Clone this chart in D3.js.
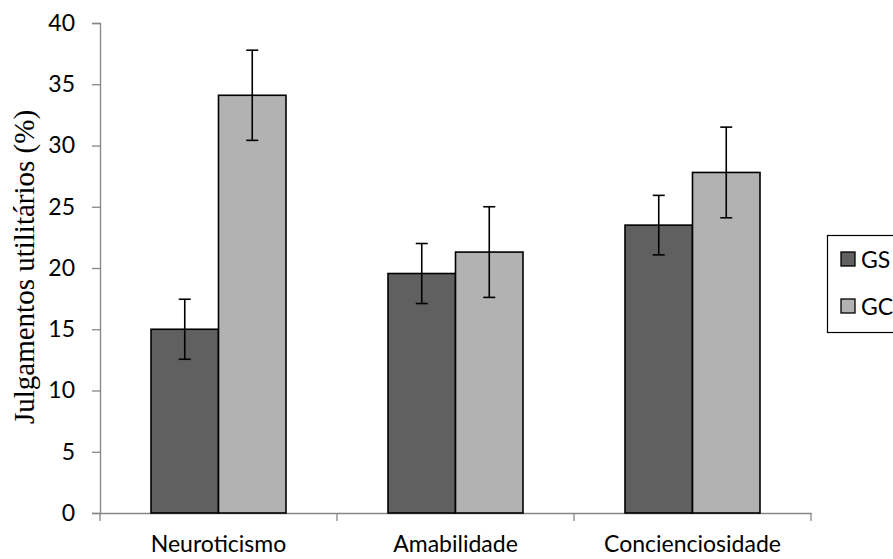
<!DOCTYPE html>
<html>
<head>
<meta charset="utf-8">
<script src="https://cdn.jsdelivr.net/npm/d3@7"></script>
<style>
  body { margin: 0; background: #fff; }
</style>
</head>
<body>
<div id="chart"></div>
<script>
var categories = ["Neuroticismo", "Amabilidade", "Concienciosidade"];
var series = ["GS", "GC"];
var gsValues = [15.0, 19.55, 23.5];
var gcValues = [34.1, 21.3, 27.8];
var gsErrors = [2.45, 2.45, 2.43];
var gcErrors = [3.68, 3.7, 3.7];
var yTicks = [0, 5, 10, 15, 20, 25, 30, 35, 40];

var W = 893, H = 559;
var margin = {top: 23, left: 100, bottom: 46};
var plotW = 711, plotH = 490;

var colors = {GS: "#606060", GC: "#b2b2b2"};
var sans = "Lato, 'Open Sans', sans-serif";

var svg = d3.select("#chart").append("svg")
  .attr("width", W)
  .attr("height", H);

var g = svg.append("g")
  .attr("transform", "translate(" + margin.left + "," + margin.top + ")");

var x0 = d3.scaleBand()
  .domain(categories)
  .range([0, plotW])
  .paddingInner(0)
  .paddingOuter(0);

var x1 = d3.scaleBand()
  .domain(series)
  .range([51, x0.bandwidth() - 51]);

var y = d3.scaleLinear()
  .domain([0, 40])
  .range([plotH, 0]);

var data = categories.map(function(c, i) {
  return {
    cat: c,
    vals: [
      {s: "GS", v: gsValues[i], e: gsErrors[i]},
      {s: "GC", v: gcValues[i], e: gcErrors[i]}
    ]
  };
});

// axes
var yAxis = d3.axisLeft(y).tickValues(yTicks).tickSize(8).tickPadding(17);
var xAxis = d3.axisBottom(x0).tickSize(0).tickFormat("");

var ya = g.append("g").call(yAxis);
ya.select(".domain").attr("stroke", "#868686").attr("stroke-width", 1.3);
ya.selectAll(".tick line").attr("stroke", "#868686").attr("stroke-width", 1.3);
ya.selectAll(".tick text")
  .style("font-family", sans)
  .style("font-size", "23px")
  .attr("fill", "#000");

var xa = g.append("g").attr("transform", "translate(0," + plotH + ")").call(xAxis);
xa.select(".domain").attr("stroke", "#868686").attr("stroke-width", 1.3);

// category separator ticks
var sepTicks = [0].concat(categories.map(function(c) { return x0(c) + x0.bandwidth(); }));
xa.selectAll(".sep")
  .data(sepTicks)
  .enter().append("line")
  .attr("class", "sep")
  .attr("x1", function(d) { return d; })
  .attr("x2", function(d) { return d; })
  .attr("y1", 0)
  .attr("y2", 8)
  .attr("stroke", "#868686")
  .attr("stroke-width", 1.3);

xa.selectAll(".cat")
  .data(categories)
  .enter().append("text")
  .attr("class", "cat")
  .attr("x", function(d) { return x0(d) + x0.bandwidth() / 2; })
  .attr("y", 39)
  .attr("text-anchor", "middle")
  .style("font-family", sans)
  .style("font-size", "23px")
  .attr("fill", "#000")
  .text(function(d) { return d; });

// bars
var groups = g.selectAll(".grp")
  .data(data)
  .enter().append("g")
  .attr("class", "grp")
  .attr("transform", function(d) { return "translate(" + x0(d.cat) + ",0)"; });

groups.selectAll("rect")
  .data(function(d) { return d.vals; })
  .enter().append("rect")
  .attr("x", function(d) { return x1(d.s); })
  .attr("y", function(d) { return y(d.v); })
  .attr("width", x1.bandwidth())
  .attr("height", function(d) { return y(0) - y(d.v); })
  .attr("fill", function(d) { return colors[d.s]; })
  .attr("stroke", "#000")
  .attr("stroke-width", 1.6);

// error bars
var eb = groups.selectAll(".err")
  .data(function(d) { return d.vals; })
  .enter().append("g")
  .attr("class", "err")
  .attr("transform", function(d) { return "translate(" + (x1(d.s) + x1.bandwidth() / 2) + ",0)"; });

eb.append("line")
  .attr("x1", 0).attr("x2", 0)
  .attr("y1", function(d) { return y(d.v + d.e); })
  .attr("y2", function(d) { return y(d.v - d.e); })
  .attr("stroke", "#000").attr("stroke-width", 1.6);

[1, -1].forEach(function(sg) {
  eb.append("line")
    .attr("x1", -6).attr("x2", 6)
    .attr("y1", function(d) { return y(d.v + sg * d.e); })
    .attr("y2", function(d) { return y(d.v + sg * d.e); })
    .attr("stroke", "#000").attr("stroke-width", 1.6);
});

// y axis title
svg.append("text")
  .attr("transform", "translate(34,267) rotate(-90)")
  .attr("text-anchor", "middle")
  .style("font-family", "'Liberation Serif', 'Times New Roman', serif")
  .style("font-size", "29px")
  .attr("fill", "#000")
  .text("Julgamentos utilitários (%)");

// legend
var legend = svg.append("g").attr("transform", "translate(827,235)");
legend.append("rect")
  .attr("x", 0.5).attr("y", 0.5)
  .attr("width", 80).attr("height", 97)
  .attr("fill", "#fff")
  .attr("stroke", "#000")
  .attr("stroke-width", 1.2);

var li = legend.selectAll(".li")
  .data(series)
  .enter().append("g")
  .attr("class", "li")
  .attr("transform", function(d, i) { return "translate(14," + (17 + i * 47) + ")"; });

li.append("rect")
  .attr("width", 14).attr("height", 14)
  .attr("fill", function(d) { return colors[d]; })
  .attr("stroke", "#000")
  .attr("stroke-width", 1.3);

li.append("text")
  .attr("x", 20)
  .attr("y", 16)
  .style("font-family", sans)
  .style("font-size", "23px")
  .attr("fill", "#000")
  .text(function(d) { return d; });
</script>
</body>
</html>
